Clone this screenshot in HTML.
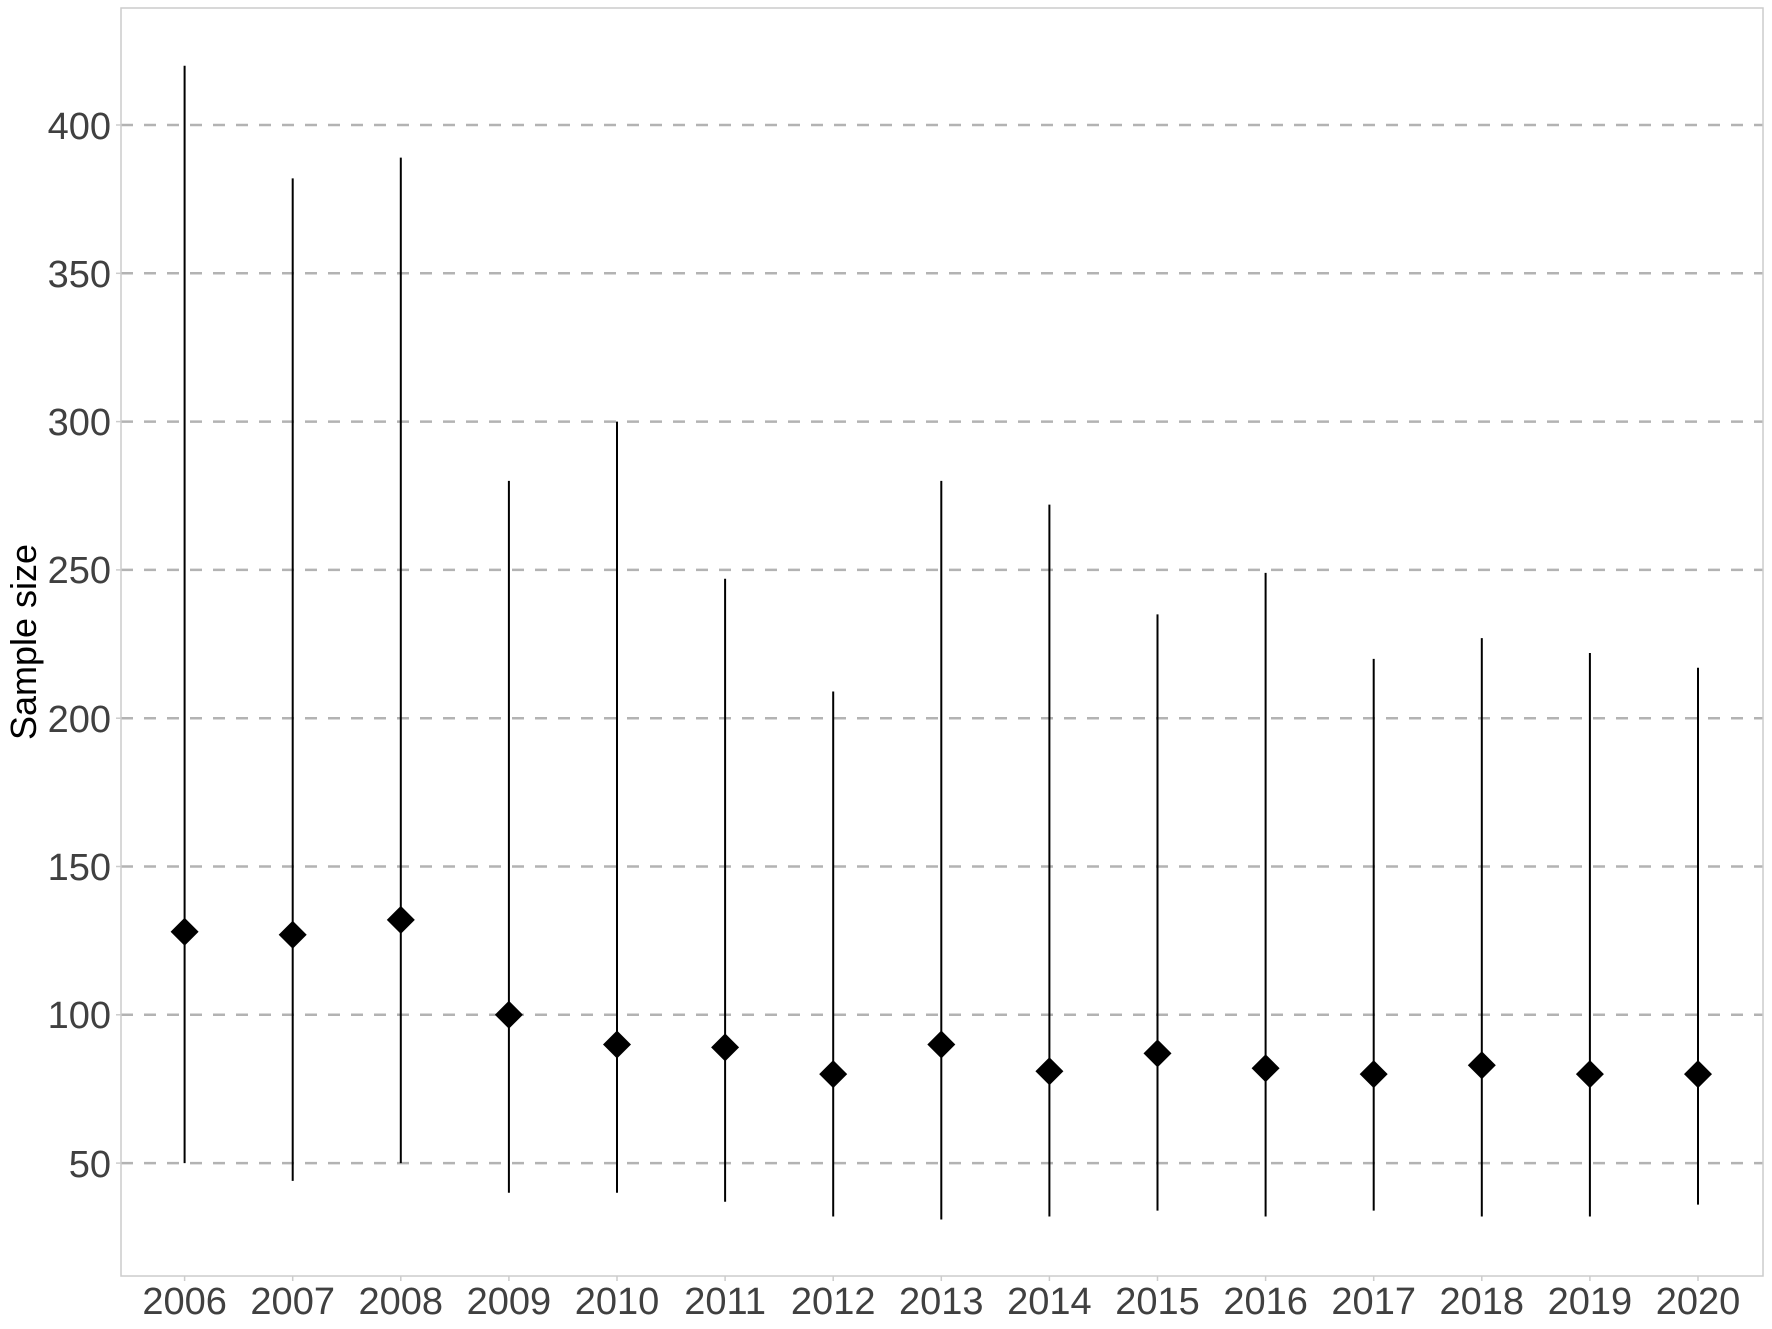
<!DOCTYPE html>
<html><head><meta charset="utf-8"><style>html,body{margin:0;padding:0;background:#fff;}svg{display:block}</style></head><body>
<svg width="1772" height="1329" xmlns="http://www.w3.org/2000/svg" font-family="Liberation Sans, sans-serif">
<rect x="0" y="0" width="1772" height="1329" fill="#fff"/>
<g stroke="#b3b3b3" stroke-width="2.5" stroke-dasharray="12,11">
<line x1="121" x2="1763" y1="125" y2="125"/>
<line x1="121" x2="1763" y1="273.3" y2="273.3"/>
<line x1="121" x2="1763" y1="421.6" y2="421.6"/>
<line x1="121" x2="1763" y1="569.9" y2="569.9"/>
<line x1="121" x2="1763" y1="718.2" y2="718.2"/>
<line x1="121" x2="1763" y1="866.5" y2="866.5"/>
<line x1="121" x2="1763" y1="1014.8" y2="1014.8"/>
<line x1="121" x2="1763" y1="1163.1" y2="1163.1"/>
</g>
<rect x="121" y="8" width="1642" height="1268" fill="none" stroke="#cccccc" stroke-width="1.5"/>
<g stroke="#cccccc" stroke-width="1.5">
<line x1="116" x2="121" y1="125" y2="125"/><line x1="116" x2="121" y1="273.3" y2="273.3"/><line x1="116" x2="121" y1="421.6" y2="421.6"/><line x1="116" x2="121" y1="569.9" y2="569.9"/><line x1="116" x2="121" y1="718.2" y2="718.2"/><line x1="116" x2="121" y1="866.5" y2="866.5"/><line x1="116" x2="121" y1="1014.8" y2="1014.8"/><line x1="116" x2="121" y1="1163.1" y2="1163.1"/>
</g>
<g fill="#404040" font-size="38" text-anchor="end">
<text x="111" y="139">400</text><text x="111" y="287">350</text><text x="111" y="435">300</text><text x="111" y="583">250</text><text x="111" y="732">200</text><text x="111" y="880">150</text><text x="111" y="1028">100</text><text x="111" y="1177">50</text>
</g>
<text transform="translate(36,642) rotate(-90)" font-size="36" text-anchor="middle" fill="#000">Sample size</text>
<g stroke="#000" stroke-width="2">
<line x1="184.6" x2="184.6" y1="65.7" y2="1163.1"/>
<line x1="292.7" x2="292.7" y1="178.4" y2="1180.9"/>
<line x1="400.8" x2="400.8" y1="157.6" y2="1163.1"/>
<line x1="508.9" x2="508.9" y1="480.9" y2="1192.8"/>
<line x1="617" x2="617" y1="421.6" y2="1192.8"/>
<line x1="725.1" x2="725.1" y1="578.8" y2="1201.7"/>
<line x1="833.2" x2="833.2" y1="691.5" y2="1216.5"/>
<line x1="941.3" x2="941.3" y1="480.9" y2="1219.5"/>
<line x1="1049.4" x2="1049.4" y1="504.6" y2="1216.5"/>
<line x1="1157.5" x2="1157.5" y1="614.4" y2="1210.6"/>
<line x1="1265.6" x2="1265.6" y1="572.9" y2="1216.5"/>
<line x1="1373.7" x2="1373.7" y1="658.9" y2="1210.6"/>
<line x1="1481.8" x2="1481.8" y1="638.1" y2="1216.5"/>
<line x1="1589.9" x2="1589.9" y1="653" y2="1216.5"/>
<line x1="1698" x2="1698" y1="667.8" y2="1204.6"/>
</g>
<g fill="#000">
<path d="M184.6,917.8l14,14l-14,14l-14,-14z"/>
<path d="M292.7,920.7l14,14l-14,14l-14,-14z"/>
<path d="M400.8,905.9l14,14l-14,14l-14,-14z"/>
<path d="M508.9,1000.8l14,14l-14,14l-14,-14z"/>
<path d="M617,1030.5l14,14l-14,14l-14,-14z"/>
<path d="M725.1,1033.4l14,14l-14,14l-14,-14z"/>
<path d="M833.2,1060.1l14,14l-14,14l-14,-14z"/>
<path d="M941.3,1030.5l14,14l-14,14l-14,-14z"/>
<path d="M1049.4,1057.2l14,14l-14,14l-14,-14z"/>
<path d="M1157.5,1039.4l14,14l-14,14l-14,-14z"/>
<path d="M1265.6,1054.2l14,14l-14,14l-14,-14z"/>
<path d="M1373.7,1060.1l14,14l-14,14l-14,-14z"/>
<path d="M1481.8,1051.2l14,14l-14,14l-14,-14z"/>
<path d="M1589.9,1060.1l14,14l-14,14l-14,-14z"/>
<path d="M1698,1060.1l14,14l-14,14l-14,-14z"/>
</g>
<g stroke="#cccccc" stroke-width="1.5">
<line x1="184.6" x2="184.6" y1="1276" y2="1281"/><line x1="292.7" x2="292.7" y1="1276" y2="1281"/><line x1="400.8" x2="400.8" y1="1276" y2="1281"/><line x1="508.9" x2="508.9" y1="1276" y2="1281"/><line x1="617" x2="617" y1="1276" y2="1281"/><line x1="725.1" x2="725.1" y1="1276" y2="1281"/><line x1="833.2" x2="833.2" y1="1276" y2="1281"/><line x1="941.3" x2="941.3" y1="1276" y2="1281"/><line x1="1049.4" x2="1049.4" y1="1276" y2="1281"/><line x1="1157.5" x2="1157.5" y1="1276" y2="1281"/><line x1="1265.6" x2="1265.6" y1="1276" y2="1281"/><line x1="1373.7" x2="1373.7" y1="1276" y2="1281"/><line x1="1481.8" x2="1481.8" y1="1276" y2="1281"/><line x1="1589.9" x2="1589.9" y1="1276" y2="1281"/><line x1="1698" x2="1698" y1="1276" y2="1281"/>
</g>
<g fill="#404040" font-size="38" text-anchor="middle">
<text x="184.6" y="1314">2006</text><text x="292.7" y="1314">2007</text><text x="400.8" y="1314">2008</text><text x="508.9" y="1314">2009</text><text x="617" y="1314">2010</text><text x="725.1" y="1314">2011</text><text x="833.2" y="1314">2012</text><text x="941.3" y="1314">2013</text><text x="1049.4" y="1314">2014</text><text x="1157.5" y="1314">2015</text><text x="1265.6" y="1314">2016</text><text x="1373.7" y="1314">2017</text><text x="1481.8" y="1314">2018</text><text x="1589.9" y="1314">2019</text><text x="1698" y="1314">2020</text>
</g>
</svg>
</body></html>
